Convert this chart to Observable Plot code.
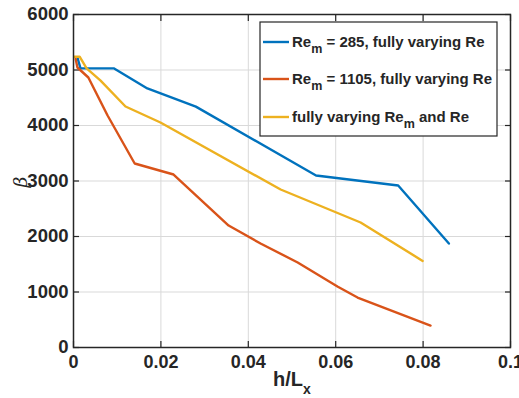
<!DOCTYPE html>
<html><head><meta charset="utf-8">
<script src="https://cdn.jsdelivr.net/npm/d3@7"></script>
<script src="https://cdn.jsdelivr.net/npm/@observablehq/plot@0.6"></script>
<style>
body{margin:0;background:#fff;}
#chart{position:relative;width:519px;height:398px;}
svg{font-family:"Liberation Sans",Arial,sans-serif;}
</style></head><body><div id="chart"></div>
<script>
const xTicks = [0, 0.02, 0.04, 0.06, 0.08, 0.1];
const yTicks = [0, 1000, 2000, 3000, 4000, 5000, 6000];

const blueX = [0.0009, 0.0016, 0.0092, 0.0169, 0.028, 0.0555, 0.0743, 0.0859];
const blueY = [5225, 5030, 5030, 4667, 4340, 3099, 2920, 1874];

const redX = [0.0005, 0.0009, 0.0034, 0.0078, 0.014, 0.0229, 0.0355, 0.0428, 0.0513, 0.0604, 0.065, 0.0817];
const redY = [5200, 5045, 4865, 4180, 3315, 3117, 2198, 1874, 1532, 1100, 900, 396];

const yelX = [0.0002, 0.0014, 0.003, 0.0062, 0.0119, 0.0199, 0.0474, 0.0657, 0.0799];
const yelY = [5240, 5240, 5030, 4810, 4342, 4054, 2847, 2252, 1560];

const seriesNames = ["Re_m = 285, fully varying Re", "Re_m = 1105, fully varying Re", "fully varying Re_m and Re"];
const colors = ["#0072BD", "#D95319", "#EDB120"];

const data = [];
blueX.forEach((x, i) => data.push({s: seriesNames[0], x, y: blueY[i]}));
redX.forEach((x, i) => data.push({s: seriesNames[1], x, y: redY[i]}));
yelX.forEach((x, i) => data.push({s: seriesNames[2], x, y: yelY[i]}));

const W = 519, H = 398;
const mL = 73, mR = 9, mT = 14, mB = 51;

const plot = Plot.plot({
  width: W, height: H,
  marginLeft: mL, marginRight: mR, marginTop: mT, marginBottom: mB,
  style: {fontFamily: '"Liberation Sans", Arial, sans-serif', background: "#fff"},
  x: {domain: [0, 0.1], ticks: xTicks},
  y: {domain: [0, 6000], ticks: yTicks},
  color: {domain: seriesNames, range: colors},
  marks: [
    Plot.gridX(xTicks, {stroke: "#d9d9d9", strokeOpacity: 1, strokeWidth: 1}),
    Plot.gridY(yTicks, {stroke: "#d9d9d9", strokeOpacity: 1, strokeWidth: 1}),
    Plot.axisX(xTicks, {anchor: "bottom", tickSize: -6, tickPadding: 14, stroke: "#262626", strokeWidth: 1.2, fill: "#262626", fontSize: 18, fontWeight: "bold", tickFormat: d => d === 0.1 ? "0.1" : (d === 0 ? "0" : d3.format(".2f")(d)), label: null}),
    Plot.axisX(xTicks, {anchor: "top", tickSize: -6, stroke: "#262626", strokeWidth: 1.2, tickFormat: () => "", label: null}),
    Plot.axisY(yTicks, {anchor: "left", tickSize: -6, tickPadding: 11, stroke: "#262626", strokeWidth: 1.2, fill: "#262626", fontSize: 18.5, fontWeight: "bold", tickFormat: d => String(d), label: null}),
    Plot.axisY(yTicks, {anchor: "right", tickSize: -6, stroke: "#262626", strokeWidth: 1.2, tickFormat: () => "", label: null}),
    Plot.line(data, {x: "x", y: "y", z: "s", stroke: "s", strokeWidth: 2.4}),
    Plot.frame({stroke: "#262626", strokeWidth: 1.5})
  ]
});
document.getElementById("chart").appendChild(plot);

const svg = d3.select(plot);
// axis labels
const xl = svg.append("text").attr("x", 273).attr("y", 386).attr("text-anchor", "start")
  .attr("font-size", 20).attr("font-weight", "bold").attr("fill", "#262626");
xl.append("tspan").text("h/L");
xl.append("tspan").attr("dy", 8).attr("font-size", 14).text("x");

svg.append("text").attr("transform", "translate(27,182) rotate(-90)").attr("text-anchor", "middle")
  .attr("font-size", 19).attr("font-style", "italic").attr("font-family", '"DejaVu Serif", serif').attr("fill", "#262626").text("β");

// legend
const lg = svg.append("g").attr("text-anchor", "start");
lg.append("rect").attr("x", 260).attr("y", 22).attr("width", 237).attr("height", 114)
  .attr("fill", "#fff").attr("stroke", "#262626").attr("stroke-width", 1.2);
const rowsY = [42, 79, 117];
seriesNames.forEach((name, i) => {
  const y = rowsY[i];
  lg.append("line").attr("x1", 263).attr("x2", 289).attr("y1", y).attr("y2", y)
    .attr("stroke", colors[i]).attr("stroke-width", 2.4);
  const t = lg.append("text").attr("x", 292).attr("y", y + 5).attr("font-size", 15)
    .attr("text-anchor", "start").attr("font-weight", "bold").attr("fill", "#262626");
  const parts = name.split("_m");
  t.append("tspan").text(parts[0]);
  t.append("tspan").attr("dy", 6).attr("font-size", 12.5).text("m");
  t.append("tspan").attr("dy", -6).text(parts[1]);
});
</script></body></html>
